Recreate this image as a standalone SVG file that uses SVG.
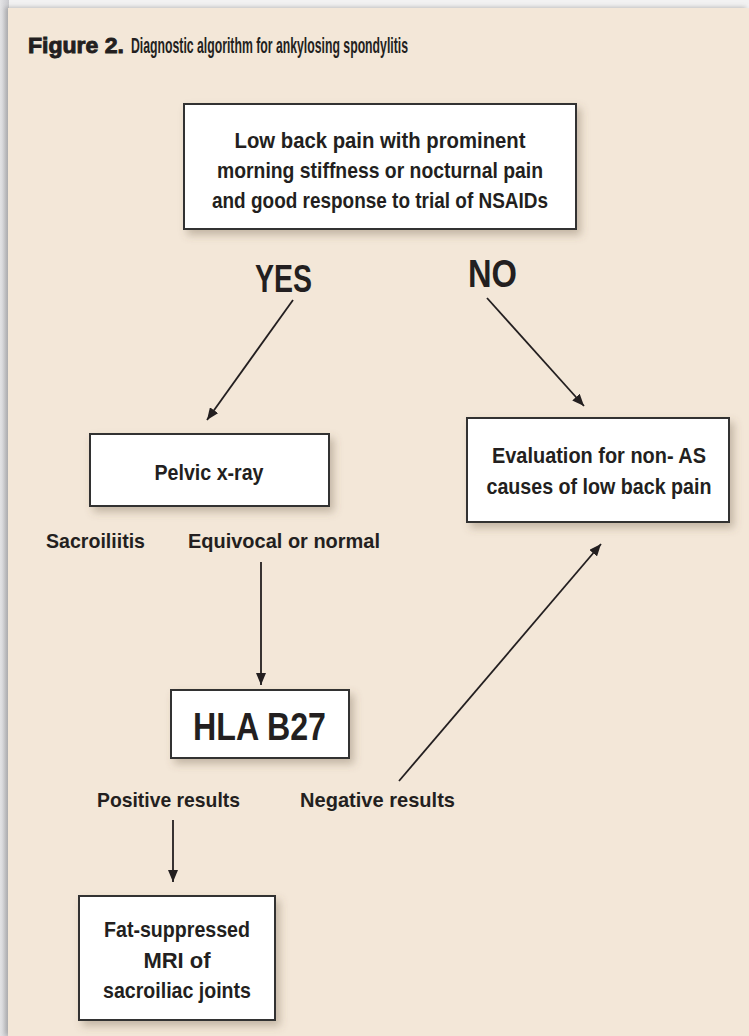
<svg xmlns="http://www.w3.org/2000/svg" width="749" height="1036" viewBox="0 0 749 1036">
<defs>
<linearGradient id="edge" x1="0" y1="0" x2="1" y2="0">
<stop offset="0" stop-color="#e4e4e6"/><stop offset="1" stop-color="#c9c9cd"/>
</linearGradient>
<filter id="sh" x="-10%" y="-10%" width="130%" height="140%">
<feDropShadow dx="4" dy="5" stdDeviation="4" flood-color="#6b5a45" flood-opacity="0.35"/>
</filter>
<filter id="psh" x="-5%" y="-5%" width="110%" height="110%">
<feDropShadow dx="-3" dy="-1" stdDeviation="2" flood-color="#888" flood-opacity="0.5"/>
</filter>
<marker id="ah" viewBox="0 0 12 10" refX="12" refY="5" markerWidth="12" markerHeight="10" markerUnits="userSpaceOnUse" orient="auto">
<path d="M0,0 L12,5 L0,10 z" fill="#231f20"/>
</marker>
</defs>
<style>
text{font-family:"Liberation Sans",Arial,sans-serif;font-weight:bold;fill:#231f20;}
.box{fill:#fff;stroke:#333;stroke-width:2;filter:url(#sh);}
.t{font-size:22px;text-anchor:middle;}
.lbl{font-size:21px;}
.big{font-size:39px;}
.con{fill:none;stroke:#231f20;stroke-width:1.8;}
</style>
<rect x="0" y="0" width="749" height="1036" fill="#f2f2f2"/>
<rect x="0" y="0" width="9" height="1036" fill="url(#edge)"/>
<rect x="8" y="8" width="741" height="1028" fill="#f3e7d8" filter="url(#psh)"/>
<g id="title">
<text x="28" y="53" style="font-size:22px;stroke:#231f20;stroke-width:0.9" textLength="96" lengthAdjust="spacingAndGlyphs">Figure 2.</text>
<text x="131" y="53" style="font-size:22px" textLength="277" lengthAdjust="spacingAndGlyphs">Diagnostic algorithm for ankylosing spondylitis</text>
</g>
<g id="connectors">
<line class="con" x1="293" y1="300" x2="207" y2="420" marker-end="url(#ah)"/>
<line class="con" x1="487" y1="298" x2="584" y2="406" marker-end="url(#ah)"/>
<line class="con" x1="261" y1="562" x2="261" y2="685" marker-end="url(#ah)"/>
<line class="con" x1="173" y1="820" x2="173" y2="882" marker-end="url(#ah)"/>
<line class="con" x1="399" y1="781" x2="601" y2="544" marker-end="url(#ah)"/>
</g>
<g id="labels">
<text class="big" x="255" y="292" textLength="57" lengthAdjust="spacingAndGlyphs">YES</text>
<text class="big" x="468" y="287" textLength="49" lengthAdjust="spacingAndGlyphs">NO</text>
<text class="lbl" x="46" y="548" textLength="99" lengthAdjust="spacingAndGlyphs">Sacroiliitis</text>
<text class="lbl" x="188" y="548" textLength="192" lengthAdjust="spacingAndGlyphs">Equivocal or normal</text>
<text class="lbl" x="97" y="807" textLength="143" lengthAdjust="spacingAndGlyphs">Positive results</text>
<text class="lbl" x="300" y="807" textLength="155" lengthAdjust="spacingAndGlyphs">Negative results</text>
</g>
<g id="node-start">
<rect class="box" x="184" y="104" width="392" height="125"/>
<text class="t" x="380" y="148" textLength="291" lengthAdjust="spacingAndGlyphs">Low back pain with prominent</text>
<text class="t" x="380" y="178" textLength="326" lengthAdjust="spacingAndGlyphs">morning stiffness or nocturnal pain</text>
<text class="t" x="380" y="208" textLength="336" lengthAdjust="spacingAndGlyphs">and good response to trial of NSAIDs</text>
</g>
<g id="node-pelvic">
<rect class="box" x="90" y="434" width="239" height="72"/>
<text class="t" x="209" y="480" textLength="109" lengthAdjust="spacingAndGlyphs">Pelvic x-ray</text>
</g>
<g id="node-eval">
<rect class="box" x="467" y="418" width="262" height="104"/>
<text class="t" x="599" y="463" textLength="214" lengthAdjust="spacingAndGlyphs">Evaluation for non- AS</text>
<text class="t" x="599" y="494" textLength="225" lengthAdjust="spacingAndGlyphs">causes of low back pain</text>
</g>
<g id="node-hla">
<rect class="box" x="171" y="690" width="178" height="68"/>
<text class="big" x="259.5" y="740" text-anchor="middle" textLength="133" lengthAdjust="spacingAndGlyphs">HLA B27</text>
</g>
<g id="node-mri">
<rect class="box" x="79" y="896" width="196" height="124"/>
<text class="t" x="177" y="937" textLength="146" lengthAdjust="spacingAndGlyphs">Fat-suppressed</text>
<text class="t" x="177" y="968">MRI of</text>
<text class="t" x="177" y="998" textLength="148" lengthAdjust="spacingAndGlyphs">sacroiliac joints</text>
</g>
</svg>
